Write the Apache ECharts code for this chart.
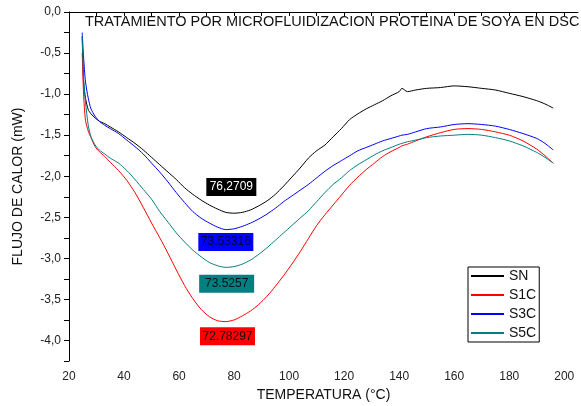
<!DOCTYPE html>
<html>
<head>
<meta charset="utf-8">
<script src="https://cdn.jsdelivr.net/npm/echarts@6/dist/echarts.min.js"></script>
<style>html,body{margin:0;padding:0;background:#fff}#c{width:581px;height:406px}</style>
</head>
<body>
<div id="c"></div>
<script>
var seriesNames = ['SN', 'S1C', 'S3C', 'S5C'];
var seriesColors = ['#000000', '#ff0000', '#0000ff', '#008080'];
var tempC = [24.8, 25.3, 26, 27, 28, 29.5, 31, 33, 35, 38, 41, 44, 47, 50, 53, 56, 59, 62, 65, 68, 71, 74, 77, 80, 83, 86, 89, 92, 95, 98, 101, 104, 107, 110, 113, 116, 119, 122, 125, 128, 131, 134, 137, 140, 141, 143, 146, 150, 155, 160, 165, 170, 175, 180, 185, 190, 193, 196];
var flowSN = [-0.30, -0.85, -1.05, -1.19, -1.24, -1.29, -1.33, -1.36, -1.40, -1.46, -1.53, -1.60, -1.68, -1.77, -1.86, -1.95, -2.04, -2.14, -2.22, -2.29, -2.35, -2.40, -2.44, -2.45, -2.44, -2.41, -2.36, -2.30, -2.22, -2.12, -2.01, -1.90, -1.78, -1.69, -1.62, -1.52, -1.42, -1.31, -1.24, -1.18, -1.13, -1.08, -1.02, -0.97, -0.93, -0.97, -0.95, -0.93, -0.92, -0.90, -0.91, -0.93, -0.95, -0.99, -1.03, -1.08, -1.12, -1.17];
var flowS1C = [-0.50, -1.00, -1.32, -1.45, -1.53, -1.64, -1.70, -1.76, -1.83, -1.93, -2.05, -2.20, -2.38, -2.57, -2.75, -2.94, -3.14, -3.33, -3.49, -3.62, -3.71, -3.76, -3.77, -3.75, -3.70, -3.64, -3.56, -3.46, -3.34, -3.21, -3.07, -2.92, -2.76, -2.60, -2.47, -2.35, -2.23, -2.11, -2.01, -1.92, -1.84, -1.76, -1.70, -1.65, -1.63, -1.61, -1.57, -1.52, -1.47, -1.43, -1.42, -1.43, -1.46, -1.50, -1.57, -1.67, -1.75, -1.84];
var flowS3C = [-0.25, -0.55, -0.85, -1.05, -1.18, -1.27, -1.33, -1.38, -1.42, -1.48, -1.56, -1.64, -1.73, -1.84, -1.95, -2.07, -2.20, -2.32, -2.43, -2.51, -2.57, -2.62, -2.65, -2.64, -2.61, -2.57, -2.52, -2.46, -2.39, -2.31, -2.24, -2.17, -2.10, -2.02, -1.94, -1.87, -1.81, -1.75, -1.69, -1.65, -1.61, -1.57, -1.54, -1.51, -1.50, -1.49, -1.46, -1.42, -1.40, -1.37, -1.36, -1.37, -1.39, -1.43, -1.48, -1.54, -1.60, -1.68];
var flowS5C = [-0.30, -0.80, -1.10, -1.38, -1.52, -1.62, -1.68, -1.73, -1.78, -1.84, -1.93, -2.04, -2.16, -2.28, -2.43, -2.56, -2.69, -2.80, -2.90, -2.98, -3.05, -3.09, -3.11, -3.10, -3.07, -3.02, -2.95, -2.87, -2.78, -2.69, -2.60, -2.51, -2.42, -2.31, -2.20, -2.10, -2.02, -1.93, -1.86, -1.80, -1.74, -1.69, -1.65, -1.61, -1.60, -1.58, -1.56, -1.53, -1.51, -1.50, -1.49, -1.50, -1.53, -1.57, -1.63, -1.71, -1.77, -1.84];
var peakLabels = ['76,2709', '72.78297', '73.53316', '73.5257'];
var peakBoxT = [79, 77.6, 77, 77.3];
var peakBoxV = [-2.13, -3.95, -2.80, -3.31];
var peakTextColors = ['#ffffff', '#1a0000', '#000033', '#001414'];

var flows = [flowSN, flowS1C, flowS3C, flowS5C];
var font = '"Liberation Sans", Arial, sans-serif';

function pairs(vals) {
  return tempC.map(function (t, i) { return [t, vals[i]]; });
}
function fmtComma(v) {
  return v.toFixed(1).replace('.', ',');
}

var series = seriesNames.map(function (name, i) {
  return {
    name: name,
    type: 'line',
    data: pairs(flows[i]),
    showSymbol: false,
    symbol: 'none',
    smooth: 0.25,
    lineStyle: { color: seriesColors[i], width: 1 },
    itemStyle: { color: seriesColors[i] },
    z: 2 + i,
    markPoint: {
      silent: true,
      animation: false,
      symbol: 'rect',
      symbolSize: [i === 0 ? 50 : 55, 18],
      data: [{
        coord: [peakBoxT[i], peakBoxV[i]],
        value: peakLabels[i],
        itemStyle: { color: seriesColors[i] },
        label: {
          show: true,
          position: 'inside',
          formatter: peakLabels[i],
          color: peakTextColors[i],
          fontFamily: font,
          fontSize: 12
        }
      }]
    }
  };
});

var chart = echarts.init(document.getElementById('c'), null, { renderer: 'canvas' });
chart.setOption({
  animation: false,
  backgroundColor: '#ffffff',
  title: {
    text: 'TRATAMIENTO POR MICROFLUIDIZACION PROTEINA DE SOYA EN DSC',
    left: 85,
    top: 14,
    padding: 0,
    textStyle: { fontFamily: font, fontSize: 14.5, fontWeight: 'normal', color: '#111' }
  },
  legend: {
    orient: 'vertical',
    left: 468,
    top: 267,
    padding: [2, 3, 2, 3],
    itemGap: 5,
    itemWidth: 33,
    itemHeight: 2,
    icon: 'rect',
    borderColor: '#000',
    borderWidth: 1,
    borderRadius: 0,
    textStyle: { fontFamily: font, fontSize: 14, color: '#111', padding: [0, 0, 0, 0] },
    data: seriesNames
  },
  grid: { left: 69, top: 12, right: 3, bottom: 45, containLabel: false, outerBoundsMode: 'none' },
  xAxis: {
    type: 'value',
    min: 20,
    max: 205,
    interval: 10,
    name: 'TEMPERATURA (°C)',
    nameLocation: 'middle',
    nameGap: 27,
    nameTextStyle: { fontFamily: font, fontSize: 14, color: '#111' },
    axisLine: { show: true, lineStyle: { color: '#000', width: 1 } },
    axisTick: { show: true, length: 4, lineStyle: { color: '#000' } },
    axisLabel: {
      fontFamily: font, fontSize: 12, color: '#222', margin: 10,
      showMaxLabel: false,
      formatter: function (v) { return (v % 20 === 0 && v <= 200) ? String(v) : ''; }
    },
    splitLine: { show: false }
  },
  yAxis: {
    type: 'value',
    min: -4.25,
    max: 0,
    interval: 0.25,
    name: 'FLUJO DE CALOR (mW)',
    nameLocation: 'middle',
    nameGap: 44,
    nameTextStyle: { fontFamily: font, fontSize: 14, color: '#111' },
    axisLine: { show: true, lineStyle: { color: '#000', width: 1 } },
    axisTick: { show: true, length: 5, lineStyle: { color: '#000' } },
    axisLabel: {
      fontFamily: font, fontSize: 12, color: '#222', margin: 8,
      formatter: function (v) {
        var r = Math.round(v * 4);
        return (r % 2 === 0) ? fmtComma(v) : '';
      }
    },
    splitLine: { show: false }
  },
  series: series
});
</script>
</body>
</html>
